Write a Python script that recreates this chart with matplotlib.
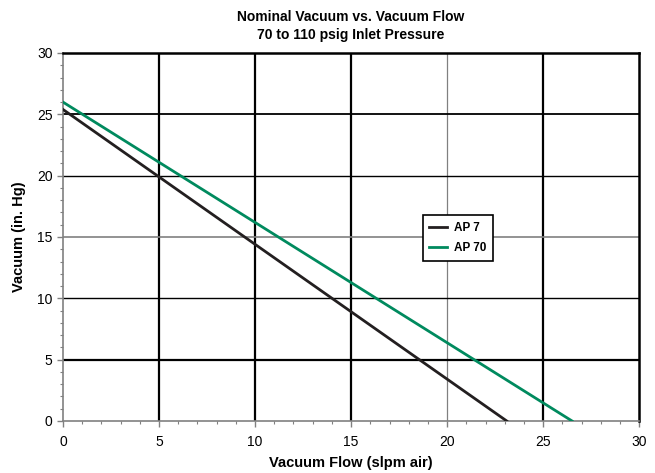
import matplotlib.pyplot as plt
from matplotlib.ticker import MultipleLocator

plt.rcParams['font.family'] = ['Liberation Sans', 'DejaVu Sans']

# data
ap7_flow = [0, 23.1]
ap7_vac = [25.4, 0]
ap70_flow = [0, 26.5]
ap70_vac = [26.0, 0]

x_ticks = [0, 5, 10, 15, 20, 25, 30]
y_ticks = [0, 5, 10, 15, 20, 25, 30]

fig = plt.figure(figsize=(6.55, 4.73), dpi=100)
ax = fig.add_axes([0.096, 0.110, 0.880, 0.778])

# grid lines, mixed weights like the original
v_grid = {5: ('black', 1.6), 10: ('black', 1.6), 15: ('black', 1.6),
          20: ('#808080', 0.9), 25: ('black', 1.6)}
h_grid = {5: ('black', 1.6), 10: ('black', 1.0), 15: ('#808080', 1.2),
          20: ('black', 1.0), 25: ('black', 1.3)}
for x, (c, lw) in v_grid.items():
    ax.axvline(x, color=c, lw=lw, zorder=1)
for y, (c, lw) in h_grid.items():
    ax.axhline(y, color=c, lw=lw, zorder=1)

ax.plot(ap7_flow, ap7_vac, color='#231f20', lw=2.0, label='AP 7', zorder=3)
ax.plot(ap70_flow, ap70_vac, color='#008a5e', lw=2.0, label='AP 70', zorder=3)

ax.set_xlim(0, 30)
ax.set_ylim(0, 30)
ax.set_xticks(x_ticks)
ax.set_yticks(y_ticks)
ax.xaxis.set_minor_locator(MultipleLocator(1))
ax.yaxis.set_minor_locator(MultipleLocator(1))
ax.tick_params(which='both', direction='out', color='#808080', labelsize=10)
ax.tick_params(which='major', length=4, width=1)
ax.tick_params(which='minor', length=2, width=0.8)
ax.tick_params(axis='x', pad=6)

for s in ['left', 'bottom']:
    ax.spines[s].set_color('#808080')
    ax.spines[s].set_linewidth(1.2)
for s in ['top', 'right']:
    ax.spines[s].set_color('black')
    ax.spines[s].set_linewidth(1.8)

ax.set_xlabel('Vacuum Flow (slpm air)', fontsize=10.5, fontweight='bold', labelpad=5)
ax.set_ylabel('Vacuum (in. Hg)', fontsize=10.5, fontweight='bold', labelpad=8)
ax.set_title('Nominal Vacuum vs. Vacuum Flow\n70 to 110 psig Inlet Pressure',
             fontsize=10, fontweight='bold', pad=10, linespacing=1.4)

leg = ax.legend(loc='upper left', bbox_to_anchor=(0.614, 0.575), fancybox=False,
                framealpha=1, edgecolor='black', prop={'weight': 'bold', 'size': 8.5},
                handlelength=1.5, handletextpad=0.6, borderpad=0.55, labelspacing=0.7)
leg.get_frame().set_linewidth(1.2)

fig.savefig('out.png', dpi=100)
